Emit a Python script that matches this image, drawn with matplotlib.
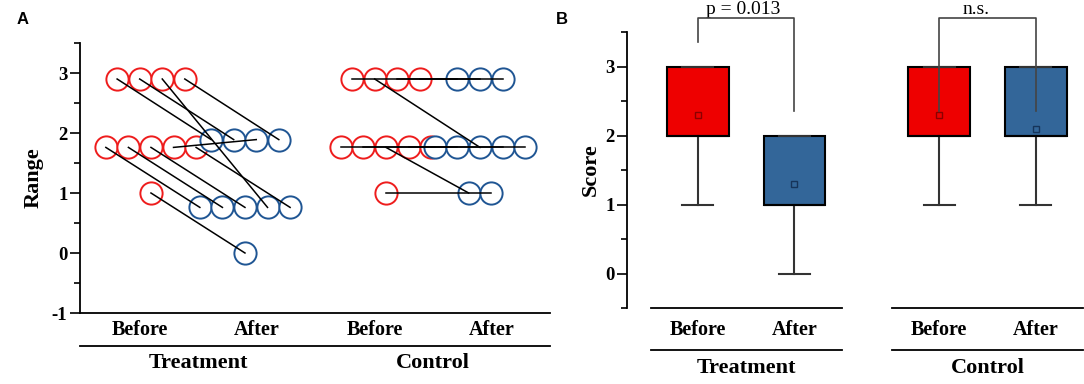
import numpy as np
import matplotlib
matplotlib.use("Agg")
import matplotlib.pyplot as plt
from matplotlib.ticker import MultipleLocator

# ---------------- data ----------------
group_names = ["Treatment", "Control"]
time_names = ["Before", "After"]

# Panel A: displayed "Range" value of each subject (same subject order in each list)
treat_before = [1.76, 1.76, 1.76, 2.9, 2.9, 2.9, 1.76, 2.9, 1.76, 1.0]
treat_after = [0.76, 0.76, 0.76, 1.89, 1.89, 0.76, 1.89, 1.89, 0.76, 0.0]
ctrl_before = [1.76, 1.76, 1.76, 2.9, 2.9, 2.9, 1.76, 2.9, 1.76, 1.0]
ctrl_after = [1.76, 1.76, 1.0, 2.9, 1.76, 2.9, 1.76, 2.9, 1.76, 1.0]

# Panel B: box statistics of "Score"
box_q1 = [2, 1, 2, 2]
box_q3 = [3, 2, 3, 3]
box_med = [2, 1, 2, 2]
box_lo = [1, 0, 1, 1]
box_hi = [3, 2, 3, 3]
box_mean = [2.3, 1.3, 2.3, 2.1]
sig_labels = ["p = 0.013", "n.s."]
sig_leg_ends = [[3.35, 2.35], [2.35, 2.35]]

# ---------------- style ----------------
RED = "#EE1C1C"
BLUE = "#1F5593"
BOX_RED = "#EE0000"
BOX_BLUE = "#336699"
SERIF = ["Liberation Serif", "DejaVu Serif"]
plt.rcParams["font.family"] = SERIF
plt.rcParams["axes.unicode_minus"] = False

fig = plt.figure(figsize=(10.84, 3.84), dpi=100)
W, H = 1084, 384

def swarm(vals, center, step):
    vals = np.asarray(vals, dtype=float)
    xs = np.empty(len(vals))
    for v in np.unique(vals):
        idx = np.where(vals == v)[0]
        n = len(idx)
        xs[idx] = center + (np.arange(n) - (n - 1) / 2) * step
    return xs

def style_yaxis(ax, label, pad):
    ax.spines["top"].set_visible(False)
    ax.spines["right"].set_visible(False)
    ax.spines["left"].set_linewidth(1.3)
    ax.yaxis.set_major_locator(MultipleLocator(1))
    ax.yaxis.set_minor_locator(MultipleLocator(0.5))
    ax.tick_params(axis="y", which="major", direction="out", length=7, width=1.2, pad=2,
                   labelsize=13.5)
    ax.tick_params(axis="y", which="minor", direction="out", length=4, width=1.2)
    for t in ax.get_yticklabels():
        t.set_fontweight("bold")
    ax.set_ylabel(label, fontsize=16, fontweight="bold", labelpad=pad)

# ---------------- Panel A ----------------
axA = fig.add_axes([80 / W, 71 / H, 470 / W, 270 / H])
axA.set_xlim(0.245, 5.245)
axA.set_ylim(-1, 3.5)
style_yaxis(axA, "Range", 6)
axA.set_xticks([])
axA.spines["bottom"].set_linewidth(1.3)

step = 0.24
posA = {"Treatment": (1.0, 2.0), "Control": (3.5, 4.5)}
pairs = {"Treatment": (treat_before, treat_after), "Control": (ctrl_before, ctrl_after)}
for g in group_names:
    b, a = pairs[g]
    pb, pa = posA[g]
    xb = swarm(b, pb, step)
    xa = swarm(a, pa, step)
    axA.plot(xb, b, "o", ms=16, mfc="white", mec=RED, mew=1.4, zorder=2, clip_on=False)
    axA.plot(xa, a, "o", ms=16, mfc="white", mec=BLUE, mew=1.4, zorder=3, clip_on=False)
    for x0, y0, x1, y1 in zip(xb, b, xa, a):
        axA.plot([x0, x1], [y0, y1], color="black", lw=1.1, zorder=4)

trA = axA.get_xaxis_transform()
for g in group_names:
    c = sum(posA[g]) / 2
    axA.text(c - 0.623, -0.063, time_names[0], transform=trA, ha="center", va="center",
             fontsize=14.5, fontweight="bold")
    axA.text(c + 0.623, -0.063, time_names[1], transform=trA, ha="center", va="center",
             fontsize=14.5, fontweight="bold")
    axA.text(c, -0.185, g, transform=trA, ha="center", va="center",
             fontsize=16, fontweight="bold")
axA.plot([0.245, 5.245], [-0.122, -0.122], transform=trA, color="black", lw=1.3,
         clip_on=False)

# ---------------- Panel B ----------------
axB = fig.add_axes([627 / W, 76 / H, 457 / W, 276 / H])
axB.set_xlim(0.265, 5.0)
axB.set_ylim(-0.5, 3.5)
style_yaxis(axB, "Score", 3)
axB.spines["bottom"].set_visible(False)

posB = [1.0, 2.0, 3.5, 4.5]
stats = []
for i in range(4):
    stats.append(dict(med=box_med[i], q1=box_q1[i], q3=box_q3[i], whislo=box_lo[i],
                      whishi=box_hi[i], mean=box_mean[i], fliers=[]))
bp = axB.bxp(stats, positions=posB, widths=0.64, patch_artist=True, showmeans=True,
             showfliers=False, capwidths=0.32, manage_ticks=False,
             boxprops=dict(edgecolor="black", linewidth=1.5),
             whiskerprops=dict(color="#333333", linewidth=1.5),
             capprops=dict(color="#333333", linewidth=1.5),
             medianprops=dict(color="black", linewidth=1.5),
             meanprops=dict(marker="s", markersize=4, markerfacecolor="none",
                            markeredgewidth=1.0))
axB.set_xticks([])
axB.set_xlim(0.265, 5.0)
fills = [BOX_RED, BOX_BLUE, BOX_RED, BOX_BLUE]
mean_edges = ["#8B0000", "#16345A", "#8B0000", "#16345A"]
for patch, fc in zip(bp["boxes"], fills):
    patch.set_facecolor(fc)
for m, ec in zip(bp["means"], mean_edges):
    m.set_markeredgecolor(ec)

top = 3.70
for k in range(2):
    x1, x2 = posB[2 * k], posB[2 * k + 1]
    l1, l2 = sig_leg_ends[k]
    axB.plot([x1, x1, x2, x2], [l1, top, top, l2], color="#444444", lw=1.2,
             clip_on=False, zorder=5)
txt_x = [(posB[0] + posB[1]) / 2 - 0.03, (posB[2] + posB[3]) / 2 - 0.12]
for k in range(2):
    axB.text(txt_x[k], top + 0.01, sig_labels[k], ha="center", va="bottom", fontsize=14,
             clip_on=False)

trB = axB.get_xaxis_transform()
for k, g in enumerate(group_names):
    p1, p2 = posB[2 * k], posB[2 * k + 1]
    for y in (0.0, -0.152):
        axB.plot([p1 - 0.49, p2 + 0.49], [y, y], transform=trB, color="black", lw=1.3,
                 clip_on=False)
    axB.text(p1, -0.08, time_names[0], transform=trB, ha="center", va="center",
             fontsize=14.5, fontweight="bold")
    axB.text(p2, -0.08, time_names[1], transform=trB, ha="center", va="center",
             fontsize=14.5, fontweight="bold")
    axB.text((p1 + p2) / 2, -0.217, g, transform=trB, ha="center", va="center",
             fontsize=16, fontweight="bold")

# panel letters
fig.text(23 / W, 1 - 20 / H, "A", family=["Liberation Sans", "DejaVu Sans"],
         fontweight="bold", fontsize=12, ha="center", va="center")
fig.text(562 / W, 1 - 19 / H, "B", family=["Liberation Sans", "DejaVu Sans"],
         fontweight="bold", fontsize=12, ha="center", va="center")

fig.savefig("out.png", dpi=100)
